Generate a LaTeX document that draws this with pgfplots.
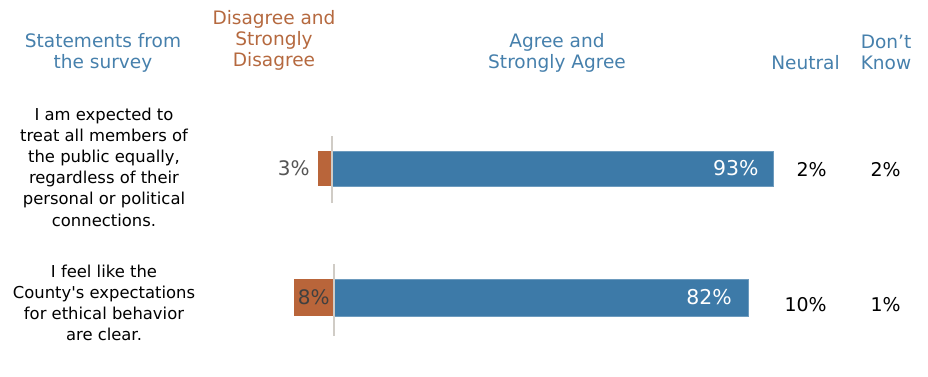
\documentclass[border=0pt]{standalone}
\usepackage{fontspec}
\setmainfont{DejaVu Sans}
\newfontfamily\plaindv{DejaVu Sans}
\usepackage{pgfplots}
\pgfplotsset{compat=1.18}
\definecolor{barblue}{HTML}{3D7AA8}
\definecolor{barorange}{HTML}{B9653A}
\definecolor{headblue}{HTML}{4680AC}
\definecolor{headorange}{HTML}{B5693F}
\definecolor{zeroline}{HTML}{D0CCC6}
\definecolor{lblgray}{HTML}{555555}
\pgfplotsset{divbar/.style={scale only axis, hide axis, xmin=-20, xmax=100, ymin=0, ymax=1, clip=false, anchor=south west}}
\begin{document}
\begin{tikzpicture}
\path[use as bounding box] (0pt,0pt) rectangle (696pt,282pt);
% row 1
\begin{axis}[divbar, at={(177.9pt,129.75pt)}, width=426.6pt, height=50.25pt]
\addplot[xbar, bar shift=0pt, bar width=26.25pt, fill=barorange, draw=none] coordinates {(-3,0.515)};
\addplot[xbar, bar shift=0pt, bar width=26.25pt, fill=barblue, draw=barblue!75!white] coordinates {(93,0.515)};
\addplot[zeroline, line width=1.5pt] coordinates {(0,0) (0,1)};
\node[anchor=east, inner sep=0pt, text=lblgray, font=\fontsize{15}{18}\selectfont] at (axis cs:-3,0.515) [xshift=-6pt] {3\%};
\node[anchor=east, inner sep=0pt, text=white, font=\fontsize{15.3}{18}\selectfont] at (axis cs:93,0.515) [xshift=-10.5pt] {93\%};
\end{axis}
% row 2
\begin{axis}[divbar, at={(174.75pt,30pt)}, width=454.5pt, height=54pt]
\addplot[xbar, bar shift=0pt, bar width=27.75pt, fill=barorange, draw=none] coordinates {(-8,0.535)};
\addplot[xbar, bar shift=0pt, bar width=27.75pt, fill=barblue, draw=barblue!75!white] coordinates {(82,0.535)};
\addplot[zeroline, line width=1.5pt] coordinates {(0,0) (0,1)};
\node[anchor=center, inner sep=0pt, text=black!75, font=\fontsize{15}{18}\selectfont] at (axis cs:-4,0.535) {8\%};
\node[anchor=east, inner sep=0pt, text=white, font=\fontsize{15.3}{18}\selectfont] at (axis cs:82,0.535) [xshift=-12pt] {82\%};
\end{axis}
\begin{scope}[shift={(0pt,282pt)}, x=0.75pt, y=-0.75pt]
% headers
\begin{scope}[font=\fontsize{13.9}{15.75}\selectfont, inner sep=0pt]
\node[headblue, align=center] at (103,52.5) {Statements from\\the survey};
\node[headorange, align=center] at (274,40) {Disagree and\\Strongly\\Disagree};
\node[headblue, align=center] at (557,52.5) {Agree and\\Strongly Agree};
\node[headblue, align=center] at (805.5,63) {Neutral};
\node[headblue, align=center] at (886,52.5) {Don’t\\Know};
\end{scope}
% statements
\begin{scope}[font=\plaindv\fontsize{12.3}{15.9}\selectfont, inner sep=0pt]
\node[align=center] at (104,167) {I am expected to\\treat all members of\\the public equally,\\regardless of their\\personal or political\\connections.};
\node[align=center] at (104,303) {I feel like the\\County's expectations\\for ethical behavior\\are clear.};
\end{scope}
% neutral and don't know
\begin{scope}[font=\fontsize{14.2}{17}\selectfont, inner sep=0pt]
\node[anchor=east] at (827,170) {2\%};
\node[anchor=east] at (901,170) {2\%};
\node[anchor=east] at (827,305) {10\%};
\node[anchor=east] at (901,305) {1\%};
\end{scope}
\end{scope}
\end{tikzpicture}
\end{document}
